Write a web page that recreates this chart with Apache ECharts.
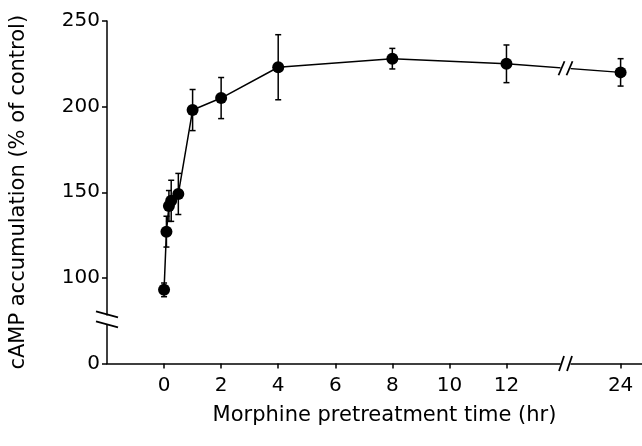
<!DOCTYPE html>
<html>
<head>
<meta charset="utf-8">
<script src="https://cdn.jsdelivr.net/npm/echarts@6/dist/echarts.min.js"></script>
<style>
html, body { margin: 0; padding: 0; background: #fff; }
#chart { width: 642px; height: 446px; }
</style>
</head>
<body>
<div id="chart"></div>
<script>
// pretreatment time (hr) and cAMP accumulation (% of control)
var timeHr = [0, 0.083, 0.17, 0.25, 0.5, 1, 2, 4, 8, 12, 24];
var cAMP = [93, 127, 142, 145, 149, 198, 205, 223, 228, 225, 220];
var errSem = [4, 9, 9, 12, 12, 12, 12, 19, 6, 11, 8];

// ticks
var xTickHours = [0, 2, 4, 6, 8, 10, 12, 24];
var yTickValues = [50, 100, 150, 200, 250];
var yTickLabels = ['0', '100', '150', '200', '250'];

// broken x axis: 24 hr is drawn where 16 would sit
function xPos(h) { return h === 24 ? 16 : h; }

var FONT = 'DejaVu Sans';
var chart = echarts.init(document.getElementById('chart'));

var lineData = [], errData = [];
for (var i = 0; i < timeHr.length; i++) {
	lineData.push([xPos(timeHr[i]), cAMP[i]]);
	errData.push([xPos(timeHr[i]), cAMP[i] - errSem[i], cAMP[i] + errSem[i]]);
}
var xTickPos = xTickHours.map(xPos);

var option = {
	animation: false,
	backgroundColor: '#fff',
	grid: { left: 106, right: 0, top: 21, bottom: 82.5, containLabel: false },
	xAxis: {
		type: 'value',
		min: -2,
		max: 16.75,
		interval: 2,
		name: 'Morphine pretreatment time (hr)',
		nameLocation: 'middle',
		nameGap: 42,
		nameTextStyle: { fontFamily: FONT, fontSize: 21, color: '#000', padding: [0, 0, 0, 20] },
		axisLine: { onZero: false, lineStyle: { color: '#000', width: 1.5 } },
		axisTick: { customValues: xTickPos, length: 5, lineStyle: { color: '#000', width: 1.5 } },
		axisLabel: {
			customValues: xTickPos,
			fontFamily: FONT, fontSize: 20, color: '#000', margin: 12,
			formatter: function (v) { return v === 16 ? '24' : String(v); }
		},
		splitLine: { show: false }
	},
	yAxis: {
		type: 'value',
		min: 50,
		max: 250,
		interval: 50,
		name: 'cAMP accumulation (% of control)',
		nameLocation: 'middle',
		nameGap: 78,
		nameRotate: 90,
		nameTextStyle: { fontFamily: FONT, fontSize: 21, color: '#000' },
		axisLine: { show: true, onZero: false, lineStyle: { color: '#000', width: 1.5 } },
		axisTick: { show: true, length: 5, lineStyle: { color: '#000', width: 1.5 } },
		axisLabel: {
			fontFamily: FONT, fontSize: 20, color: '#000', margin: 7,
			formatter: function (v) { return yTickLabels[yTickValues.indexOf(v)]; }
		},
		splitLine: { show: false }
	},
	series: [
		{
			type: 'custom',
			z: 3,
			renderItem: function (params, api) {
				var x = api.value(0);
				var lo = api.coord([x, api.value(1)]);
				var hi = api.coord([x, api.value(2)]);
				var cap = 3;
				var st = { stroke: '#000', lineWidth: 1.5 };
				return {
					type: 'group',
					children: [
						{ type: 'line', shape: { x1: lo[0], y1: lo[1], x2: hi[0], y2: hi[1] }, style: st },
						{ type: 'line', shape: { x1: lo[0] - cap, y1: lo[1], x2: lo[0] + cap, y2: lo[1] }, style: st },
						{ type: 'line', shape: { x1: hi[0] - cap, y1: hi[1], x2: hi[0] + cap, y2: hi[1] }, style: st }
					]
				};
			},
			encode: { x: 0, y: [1, 2] },
			data: errData
		},
		{
			type: 'line',
			z: 4,
			data: lineData,
			symbol: 'circle',
			symbolSize: 12,
			lineStyle: { color: '#000', width: 1.5 },
			itemStyle: { color: '#000' }
		}
	]
};
chart.setOption(option);

// break marks (axis and line)
function slashPair(cx, cy, dx, hw, hh) {
	var st = { stroke: '#000', lineWidth: 1.8 };
	return [
		{ type: 'rect', shape: { x: cx - dx - 1, y: cy - hh + 2, width: 2 * dx + 2, height: 2 * hh - 4 }, style: { fill: '#fff' }, z: 100 },
		{ type: 'line', shape: { x1: cx - dx - hw, y1: cy + hh, x2: cx - dx + hw, y2: cy - hh }, style: st, z: 101 },
		{ type: 'line', shape: { x1: cx + dx - hw, y1: cy + hh, x2: cx + dx + hw, y2: cy - hh }, style: st, z: 101 }
	];
}
var g = [];
// x axis break at 14
var xb = chart.convertToPixel({ gridIndex: 0 }, [14.07, 50]);
g = g.concat(slashPair(xb[0], xb[1], 4, 2.5, 7.5));
// line break between 12 and 24 hr
var p12 = chart.convertToPixel({ gridIndex: 0 }, [12, cAMP[9]]);
var p24 = chart.convertToPixel({ gridIndex: 0 }, [16, cAMP[10]]);
var t = (xb[0] - p12[0]) / (p24[0] - p12[0]);
var ly = p12[1] + t * (p24[1] - p12[1]);
g = g.concat(slashPair(xb[0], ly, 4, 3, 7));
// y axis break near 75
var yb = chart.convertToPixel({ gridIndex: 0 }, [-2, 75.7]);
g.push({ type: 'rect', shape: { x: yb[0] - 2, y: yb[1] - 4, width: 4, height: 9 }, style: { fill: '#fff' }, z: 100 });
g.push({ type: 'line', shape: { x1: yb[0] - 11, y1: yb[1] - 8, x2: yb[0] + 11, y2: yb[1] - 2 }, style: { stroke: '#000', lineWidth: 1.8 }, z: 101 });
g.push({ type: 'line', shape: { x1: yb[0] - 11, y1: yb[1] + 2, x2: yb[0] + 11, y2: yb[1] + 8 }, style: { stroke: '#000', lineWidth: 1.8 }, z: 101 });
chart.setOption({ graphic: g });
</script>
</body>
</html>
